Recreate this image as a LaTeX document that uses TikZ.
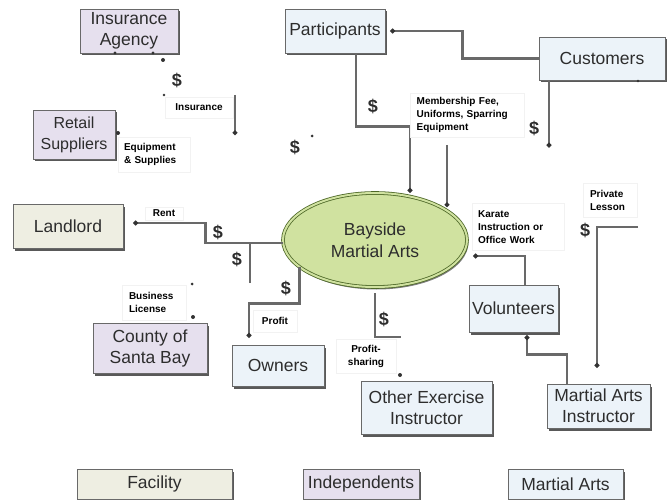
\documentclass[tikz,border=0pt]{standalone}
\usepackage{fontspec}
\setmainfont{Liberation Sans}
\usepackage{tikz}
\usetikzlibrary{arrows.meta,positioning,calc,shadows,shapes.geometric}
\definecolor{BMlav}{RGB}{230,224,238}
\definecolor{BMbeige}{RGB}{238,238,226}
\definecolor{BMblue}{RGB}{236,243,249}
\definecolor{BMgreen}{RGB}{208,226,160}
\definecolor{BMolive}{RGB}{78,104,40}
\definecolor{BMline}{RGB}{105,105,105}
\definecolor{BMtext}{RGB}{45,45,45}

\begin{document}
\begin{tikzpicture}[x=1pt,y=-1pt,
    box/.style={draw=BMline,line width=0.7pt,text=BMtext,align=center,inner sep=0pt,
      font=\fontsize{17.5}{21}\selectfont,
      general shadow={fill=black!65,shadow xshift=1.5pt,shadow yshift=-2.5pt}},
    facility/.style={box,fill=BMbeige},
    indep/.style={box,fill=BMlav},
    martial/.style={box,fill=BMblue},
    flowlbl/.style={fill=white,draw=black!5,font=\bfseries\fontsize{10}{13}\selectfont,
      align=left,inner sep=0pt},
    dollar/.style={font=\bfseries\fontsize{18}{18}\selectfont,text=BMtext,inner sep=0pt},
    flow/.style={draw=BMline,line width=2.4pt,-{Circle[length=4.5pt,color=black!80]}},
    flowplain/.style={draw=BMline,line width=2.4pt}]
    \useasboundingbox (0,0) rectangle (672,500);

    % organisations
    \node[indep,minimum width=98pt,minimum height=44pt] (insAg) at (129,31) {Insurance\\Agency};
    \node[martial,minimum width=100pt,minimum height=44pt] (part) at (335,31) {Participants};
    \node[martial,minimum width=126pt,minimum height=43pt] (cust) at (602,58.5) {Customers};
    \node[indep,minimum width=82pt,minimum height=49pt,font=\fontsize{16}{21}\selectfont] (retail) at (74,134.5) {Retail\\Suppliers};
    \node[facility,minimum width=110pt,minimum height=44pt] (land) at (68,226) {Landlord};
    \node[ellipse,draw=BMolive,double=BMgreen,double distance=2pt,line width=0.8pt,fill=BMgreen,
      minimum width=184pt,minimum height=94pt,inner sep=0pt,align=center,text=BMtext,
      font=\fontsize{17.5}{22}\selectfont,
      general shadow={fill=black!50,shadow xshift=1.5pt,shadow yshift=-2.5pt}] (bay) at (375,240) {Bayside\\Martial Arts};
    \node[indep,minimum width=114pt,minimum height=50pt] (county) at (150,348) {County of\\Santa Bay};
    \node[martial,minimum width=92pt,minimum height=41pt] (own) at (278,365.5) {Owners};
    \node[martial,minimum width=131pt,minimum height=53pt] (other) at (426.5,407.5) {Other Exercise\\Instructor};
    \node[martial,minimum width=89pt,minimum height=47pt] (vol) at (513.5,308.5) {Volunteers};
    \node[martial,minimum width=103pt,minimum height=44pt] (mai) at (598.5,406) {Martial Arts\\Instructor};

    % key
    \node[facility,minimum width=155pt,minimum height=30pt] (keyFac) at (154.5,484) {Facility};
    \node[indep,minimum width=116pt,minimum height=30pt] (keyInd) at (361,484) {Independents};
    \node[martial,minimum width=115pt,minimum height=30pt] (keyMA) at (565.5,484) {Martial Arts};

    % flows
    \coordinate (feeTop) at (447,145);
    \coordinate (licEnd) at (250,283);
    \coordinate (shareEnd) at (401,337);
    \coordinate (lessonStart) at (638,227);
    \coordinate (insTop) at (235,95);
    \draw[flow] (cust.west) -- ++(-76,0) |- ([xshift=5pt]part.east);
    \draw[flow] ([xshift=21pt]part.south) -- ++(0,73) -| ([xshift=35pt]bay.north);
    \draw[flow] (feeTop) -- ++(0,62);
    \draw[flow] ([xshift=-53pt]cust.south) -- ++(0,67);
    \draw[flow] ([yshift=-3pt]bay.west) -- ++(-77,0) |- ([xshift=10pt,yshift=3pt]land.east);
    \draw[flowplain] (licEnd) -- ++(0,-40);
    \draw[flow] (bay.200) -- ++(0,36) -| ([xshift=-29pt,yshift=7pt]own.north);
    \draw[flowplain] ([yshift=-6pt]bay.south) |- (shareEnd);
    \draw[flow] ([xshift=11.5pt]vol.north) |- ([xshift=6pt,yshift=-16pt]bay.east);
    \draw[flow] ([xshift=-31.5pt]mai.north) -- ++(0,-29) -| ([xshift=13.5pt,yshift=-3pt]vol.south);
    \draw[flow] (lessonStart) -| ([xshift=-1.5pt,yshift=16pt]mai.north);
    \draw[flow] (insTop) -- ++(0,40);

    % flow labels
    \node[flowlbl,minimum width=68pt,minimum height=21pt,align=center] (insL) at (199,107.5) {Insurance};
    \node[flowlbl,text width=60pt,inner xsep=6pt,minimum height=35pt] (equipL) at (154,154.5) {Equipment\\\& Supplies};
    \node[flowlbl,minimum width=38pt,minimum height=13pt,align=center] (rentL) at (164,213.5) {Rent};
    \node[flowlbl,text width=50pt,inner xsep=7pt,minimum height=35pt] (licL) at (154,302.5) {Business\\License};
    \node[flowlbl,minimum width=44pt,minimum height=22pt,align=center] (profL) at (275,321) {Profit};
    \node[flowlbl,minimum width=60pt,minimum height=34pt,align=center] (shareL) at (366,356) {Profit-\\sharing};
    \node[flowlbl,anchor=north west,text width=100pt,inner xsep=7pt,minimum height=44pt] (feeL) at (409.5,93) {Membership Fee,\\Uniforms, Sparring\\Equipment};
    \node[flowlbl,anchor=north west,text width=80pt,inner xsep=6pt,minimum height=47pt] (workL) at (472,203) {Karate\\Instruction or\\Office Work};
    \node[flowlbl,text width=40pt,inner xsep=7pt,minimum height=34pt] (lessonL) at (610,200) {Private\\Lesson};

    % money
    \foreach \x/\y [count=\i] in {177/80,295/147,218/232,237/259,286/288,384/319,373/106,534/128,585/230}
      \node[dollar] (cash\i) at (\x,\y) {\$};

    % loose ends
    \foreach \x/\y/\r in {115/53/1.6,153/53/1.6,163/60/2,164/95/1.4,312/136/1.5,118/133/2,
      192/284/1.5,193/317/2,400/375/2,638/81/1.4}
      \fill[black!80] (\x,\y) circle (\r pt);
  \end{tikzpicture}
\end{document}
